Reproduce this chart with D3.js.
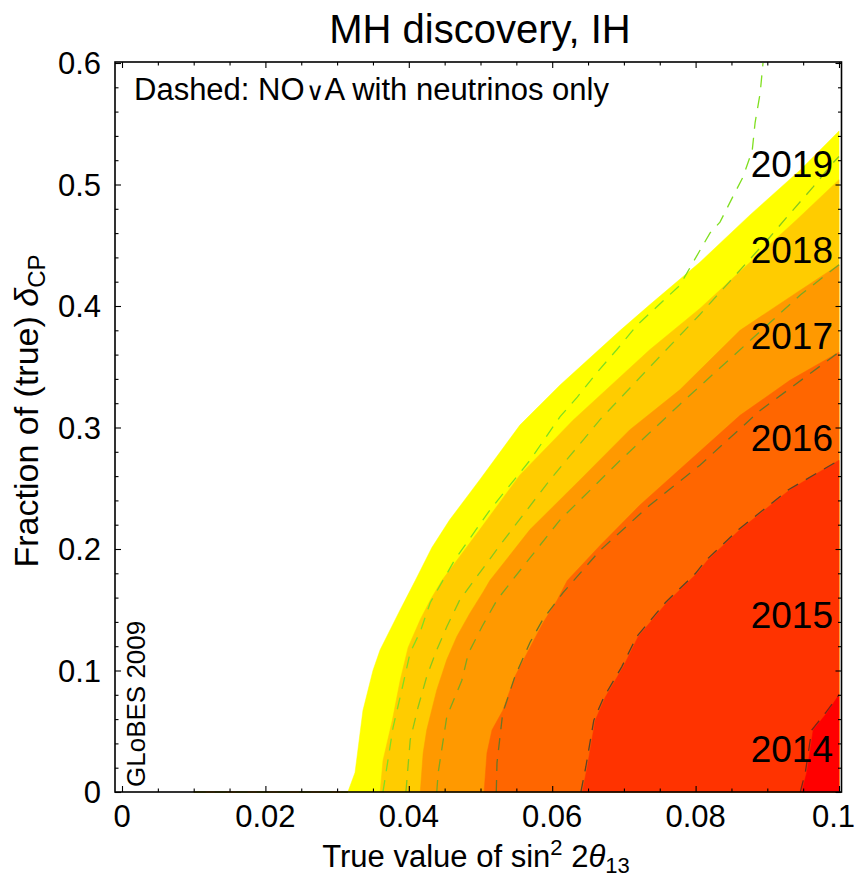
<!DOCTYPE html>
<html><head><meta charset="utf-8">
<script src="https://cdn.jsdelivr.net/npm/d3@7"></script>
<style>
body{margin:0;background:#fff}
svg{display:block}
text{font-family:"Liberation Sans",Arial,Helvetica,sans-serif;fill:#000}
</style>
</head><body>
<svg id="chart" width="858" height="880"></svg>
<script>
// ---------- data ----------
const years = ["2019","2018","2017","2016","2015","2014"];
const fillColors = ["#ffff00","#ffcc00","#ff9900","#ff6600","#ff3300","#ff0000"];
const dashColors = ["#7fdf1f","#86c81e","#7aa822","#6a7426","#5a4428","#7a2418"];

// Combined (filled) discovery-reach boundaries: [sin^2 2theta13, fraction of deltaCP]
const reach2019 = [[0.0315,0],[0.0325,0.016],[0.0336,0.067],[0.0350,0.100],[0.0360,0.117],[0.0388,0.150],[0.0409,0.174],[0.0432,0.201],[0.0457,0.224],[0.0499,0.257],[0.0555,0.302],[0.0611,0.335],[0.0695,0.380],[0.0736,0.401],[0.0806,0.436],[0.0876,0.475],[0.0946,0.512],[0.1,0.544]];
const reach2018 = [[0.0360,0],[0.0364,0.026],[0.0377,0.059],[0.0388,0.092],[0.0399,0.119],[0.0416,0.142],[0.0430,0.158],[0.0446,0.174],[0.0499,0.216],[0.0555,0.261],[0.0629,0.306],[0.0736,0.364],[0.0806,0.398],[0.0876,0.436],[0.0941,0.471],[0.1,0.504]];
const reach2017 = [[0.0416,0],[0.0420,0.032],[0.0425,0.051],[0.0439,0.084],[0.0453,0.109],[0.0467,0.128],[0.0485,0.147],[0.0503,0.164],[0.0513,0.174],[0.0569,0.216],[0.0639,0.257],[0.0708,0.298],[0.0778,0.331],[0.0862,0.380],[0.0946,0.413],[0.1,0.434]];
const reach2016 = [[0.0505,0],[0.0509,0.032],[0.0516,0.051],[0.0531,0.067],[0.0548,0.095],[0.0569,0.119],[0.0587,0.139],[0.0607,0.158],[0.0621,0.174],[0.0667,0.203],[0.0722,0.236],[0.0792,0.273],[0.0862,0.310],[0.0932,0.339],[0.1,0.362]];
const reach2015 = [[0.0642,0],[0.0649,0.021],[0.0660,0.059],[0.0674,0.078],[0.0699,0.103],[0.0720,0.128],[0.0760,0.156],[0.0802,0.180],[0.0817,0.191],[0.0862,0.216],[0.0932,0.249],[0.1,0.273]];
const reach2014 = [[0.0948,0],[0.0955,0.016],[0.0964,0.051],[0.0983,0.065],[0.1,0.080]];

// NOvA neutrinos-only boundaries (dashed)
const nova2019 = [[0.0364,0],[0.0378,0.053],[0.0391,0.086],[0.0402,0.115],[0.0416,0.132],[0.0430,0.156],[0.0464,0.191],[0.0513,0.232],[0.0569,0.273],[0.0611,0.309],[0.0635,0.325],[0.0662,0.345],[0.0690,0.364],[0.0718,0.384],[0.0778,0.417],[0.0820,0.460],[0.0834,0.469],[0.0852,0.490],[0.0866,0.506],[0.0879,0.528],[0.0883,0.551],[0.0890,0.575],[0.0894,0.600]];
const nova2018 = [[0.0396,0],[0.0402,0.043],[0.0413,0.070],[0.0425,0.095],[0.0439,0.117],[0.0453,0.136],[0.0471,0.158],[0.0527,0.203],[0.0597,0.257],[0.0669,0.308],[0.0690,0.321],[0.0722,0.341],[0.0806,0.393],[0.0904,0.457],[0.0927,0.473],[0.0964,0.498],[0.0992,0.518],[0.1,0.523]];
const nova2017 = [[0.0439,0],[0.0441,0.016],[0.0453,0.062],[0.0474,0.092],[0.0483,0.114],[0.0502,0.136],[0.0523,0.158],[0.0544,0.174],[0.0611,0.224],[0.0695,0.273],[0.0778,0.319],[0.0862,0.364],[0.0946,0.409],[0.1,0.434]];
const nova2016 = [[0.0522,0],[0.0523,0.024],[0.0531,0.065],[0.0548,0.095],[0.0569,0.123],[0.0587,0.142],[0.0615,0.164],[0.0667,0.199],[0.0736,0.236],[0.0806,0.269],[0.0890,0.314],[0.1,0.362]];
const nova2015 = [[0.0640,0],[0.0647,0.021],[0.0658,0.059],[0.0672,0.078],[0.0697,0.103],[0.0718,0.128],[0.0758,0.156],[0.0800,0.180],[0.0815,0.191],[0.0860,0.216],[0.0930,0.249],[0.1,0.273]];
const nova2014 = [[0.0946,0],[0.0953,0.016],[0.0962,0.051],[0.0981,0.065],[0.1,0.080]];

const xTicksMajor = [0,0.02,0.04,0.06,0.08,0.1];
const xTickLabels = ["0","0.02","0.04","0.06","0.08","0.1"];
const yTicksMajor = [0,0.1,0.2,0.3,0.4,0.5,0.6];
const yTickLabels = ["0","0.1","0.2","0.3","0.4","0.5","0.6"];
const labelFractions = [0.506,0.435,0.365,0.281,0.135,0.025];

// ---------- drawing ----------
const reach = [reach2019,reach2018,reach2017,reach2016,reach2015,reach2014];
const nova = [nova2019,nova2018,nova2017,nova2016,nova2015,nova2014];

const svg = d3.select("#chart");
const x = d3.scaleLinear().domain([0,0.1]).range([122,839]);
const y = d3.scaleLinear().domain([0,0.6]).range([792,63]);
const frame = {l:115, r:841.5, t:62, b:792};

const line = d3.line().x(d=>x(d[0])).y(d=>y(d[1]));

// filled regions (nested, drawn from widest to narrowest)
reach.forEach((pts,i)=>{
  const poly = pts.concat([[0.1,0]]);
  svg.append("path").attr("d", line(poly)+"Z")
    .attr("fill", fillColors[i]).attr("stroke", fillColors[i]).attr("stroke-width",0.5);
});

// degenerate contour along the bottom edge
svg.append("path").attr("d", line([[0.01,0],[0.0315,0]]))
  .attr("stroke","#e0a020").attr("stroke-width",2.2).attr("fill","none");
svg.append("path").attr("d", line([[0.01,0],[0.0315,0]]))
  .attr("stroke","#7fbf1f").attr("stroke-width",1.2).attr("fill","none")
  .attr("stroke-dasharray","12,9");

// dashed NOvA-only curves
nova.forEach((pts,i)=>{
  svg.append("path").attr("d", line(pts))
    .attr("fill","none").attr("stroke", dashColors[i])
    .attr("stroke-width",1.3).attr("stroke-dasharray","12,9");
});

// frame
svg.append("rect").attr("x",frame.l).attr("y",frame.t)
  .attr("width",frame.r-frame.l).attr("height",frame.b-frame.t)
  .attr("fill","none").attr("stroke","#000").attr("stroke-width",1.6);

// ticks via d3 axes
const xMinor = d3.range(0,0.1001,0.005);
const yMinor = d3.range(0,0.6001,0.02);
function isMajor(v, step){ return Math.abs(v/step - Math.round(v/step))<1e-6; }

const gxB = svg.append("g").attr("transform",`translate(0,${frame.b})`)
  .call(d3.axisBottom(x).tickValues(xMinor).tickSize(0).tickFormat(""));
const gxT = svg.append("g").attr("transform",`translate(0,${frame.t})`)
  .call(d3.axisTop(x).tickValues(xMinor).tickSize(0).tickFormat(""));
[gxB,gxT].forEach((g,k)=>{
  g.select(".domain").remove();
  g.selectAll(".tick line").attr("stroke","#000").attr("stroke-width",1.1)
    .attr("y2", d => (k===0?-1:1)*(isMajor(d,0.02)?6:3.5));
});
const gyL = svg.append("g").attr("transform",`translate(${frame.l},0)`)
  .call(d3.axisLeft(y).tickValues(yMinor).tickSize(0).tickFormat(""));
const gyR = svg.append("g").attr("transform",`translate(${frame.r},0)`)
  .call(d3.axisRight(y).tickValues(yMinor).tickSize(0).tickFormat(""));
[gyL,gyR].forEach((g,k)=>{
  g.select(".domain").remove();
  g.selectAll(".tick line").attr("stroke","#000").attr("stroke-width",1.1)
    .attr("x2", d => (k===0?1:-1)*(isMajor(d,0.1)?6:3.5));
});

// tick labels (last one kept inside the canvas)
const nX = xTicksMajor.length;
svg.append("g").selectAll("text").data(xTicksMajor).join("text")
  .attr("x", (d,i)=> i===nX-1 ? 855 : x(d))
  .attr("y", 827)
  .attr("text-anchor", (d,i)=> i===nX-1 ? "end" : "middle")
  .attr("font-size",31).text((d,i)=>xTickLabels[i]);
svg.append("g").selectAll("text").data(yTicksMajor).join("text")
  .attr("x", 101).attr("y", d=>y(d)+11).attr("text-anchor","end")
  .attr("font-size",31).text((d,i)=>yTickLabels[i]);

// year labels
svg.append("g").selectAll("text").data(years).join("text")
  .attr("x", 833).attr("y", (d,i)=>y(labelFractions[i])).attr("text-anchor","end")
  .attr("font-size",37).text(d=>d);

// title
svg.append("text").attr("x",480).attr("y",43).attr("text-anchor","middle")
  .attr("font-size",40).text("MH discovery, IH");

// annotation
const ann = svg.append("text").attr("x",134).attr("y",100).attr("font-size",31);
ann.append("tspan").text("Dashed: NO");
ann.append("tspan").attr("font-size",25).attr("font-family","DejaVu Sans").attr("font-weight",300).attr("dx",1).text("\u2228");
ann.append("tspan").attr("dx",1).text("A with neutrinos only");

// GLoBES stamp
svg.append("text").attr("transform","translate(145,787) rotate(-90)")
  .attr("font-size",26).text("GLoBES 2009");

// x axis title
const xt = svg.append("text").attr("x",476).attr("y",867).attr("text-anchor","middle").attr("font-size",31);
xt.append("tspan").text("True value of sin");
xt.append("tspan").attr("font-size",22).attr("dy",-12).text("2");
xt.append("tspan").attr("dy",12).text(" 2");
xt.append("tspan").attr("font-style","italic").text("\u03b8");
xt.append("tspan").attr("font-size",22).attr("dy",6).text("13");

// y axis title
const yt = svg.append("text").attr("transform","translate(38,411) rotate(-90)")
  .attr("text-anchor","middle").attr("font-size",34);
yt.append("tspan").text("Fraction of (true) ");
yt.append("tspan").attr("font-style","italic").text("\u03b4");
yt.append("tspan").attr("font-size",24).attr("dy",7).text("CP");
</script>
</body></html>
